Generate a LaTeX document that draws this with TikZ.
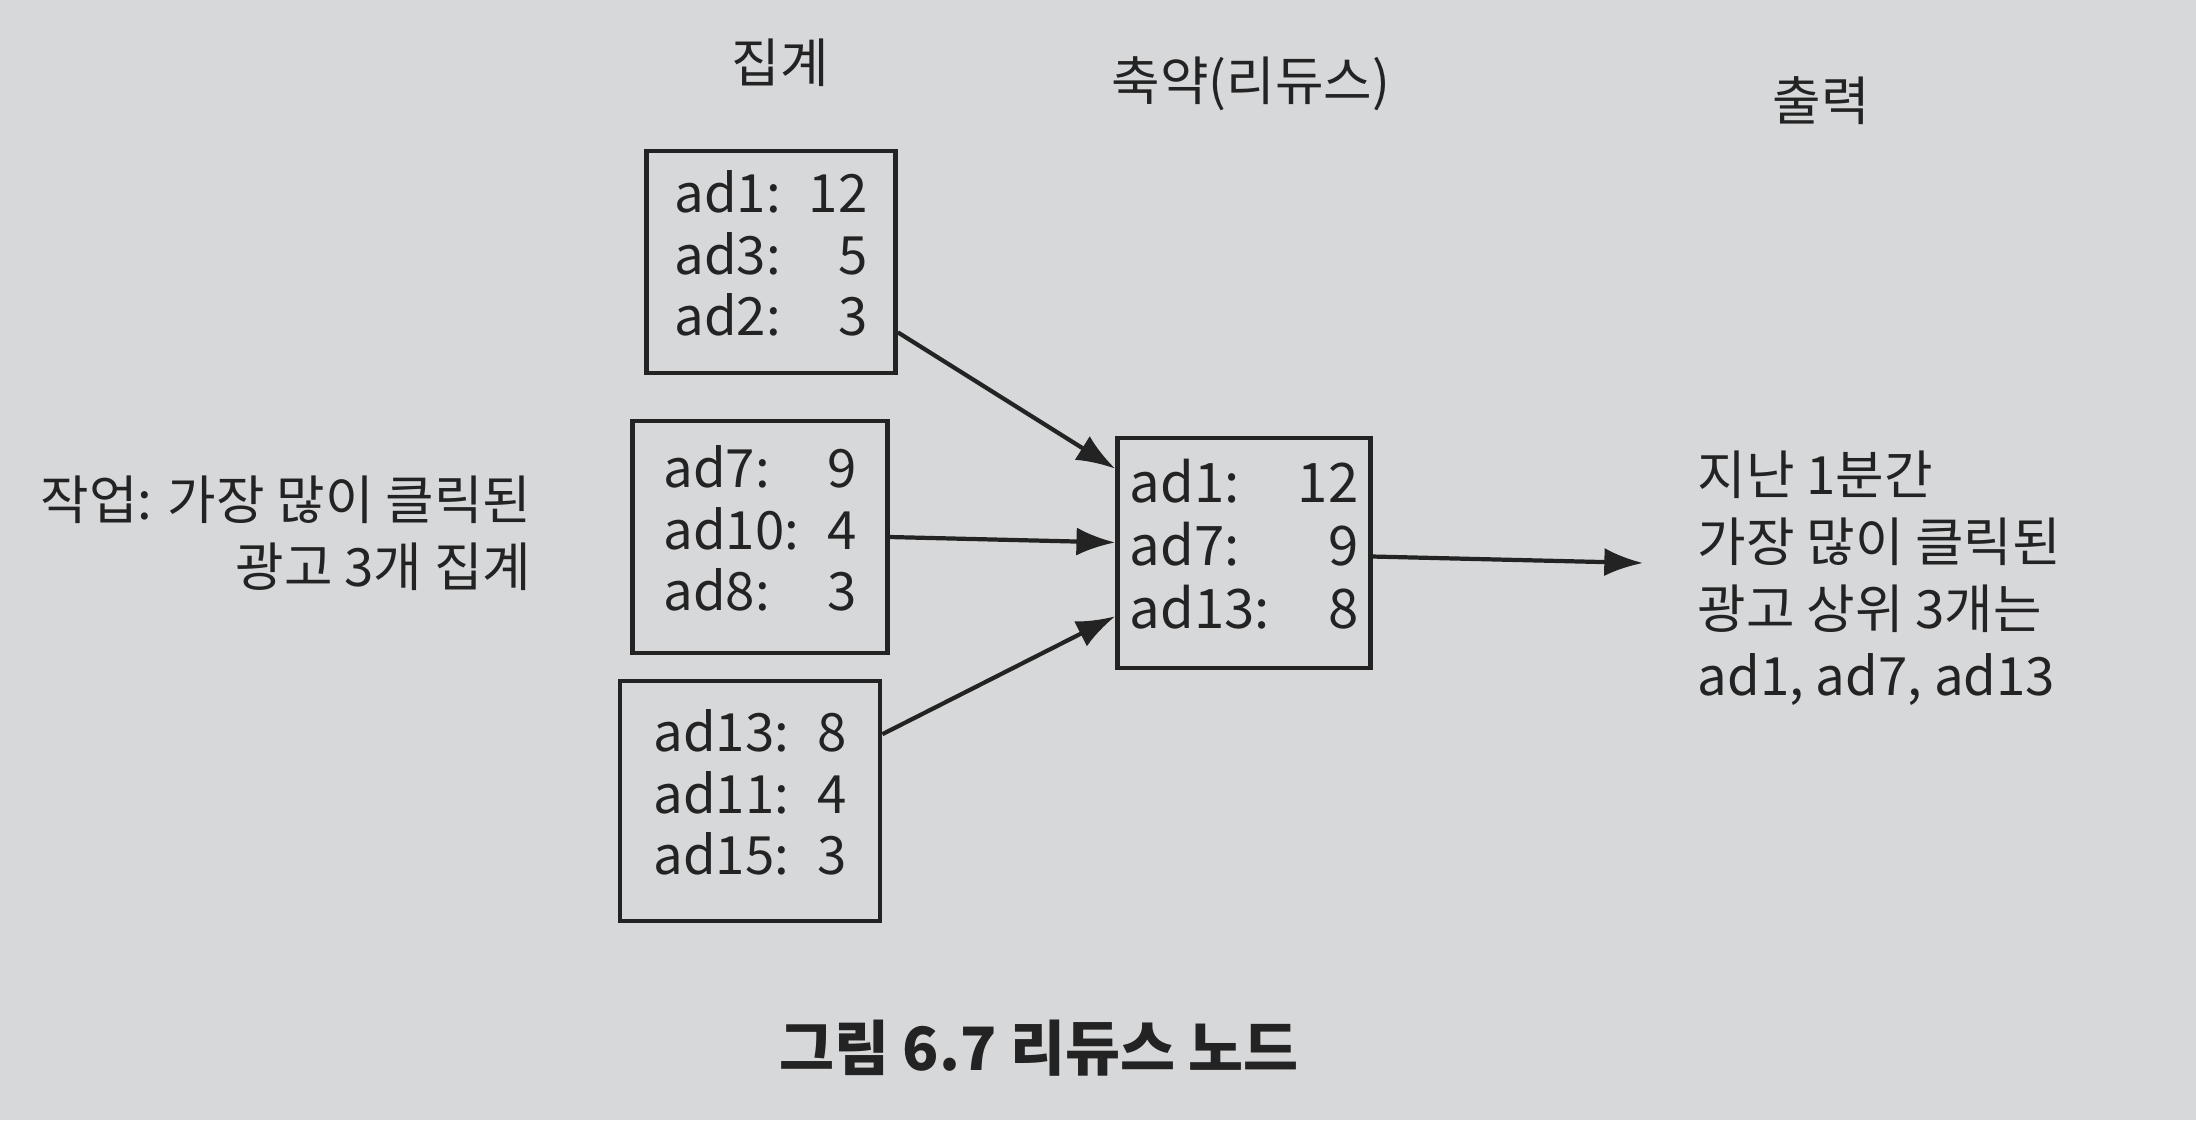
\documentclass[tikz,border=0pt]{standalone}
\usepackage{fontspec}
\setmainfont{Noto Sans CJK KR}
\usetikzlibrary{arrows.meta,calc}
\definecolor{paper}{HTML}{D7D8DA}
\definecolor{ink}{HTML}{232323}
\tikzset{
  adbox/.style={draw=ink,line width=1.3pt,inner sep=0pt,text=ink,font=\fontsize{15}{17.5}\selectfont},
  lbl/.style={text=ink,font=\fontsize{15}{19}\selectfont,inner sep=0pt},
  conn/.style={draw=ink,line width=1.2pt,-{Latex[length=11pt,width=8pt]}}
}
\newcommand{\adtab}[1]{\begin{tabular}{@{}l@{\hspace{8pt}}r@{}}#1\end{tabular}}
\begin{document}
\begin{tikzpicture}[x=0.01cm,y=-0.01cm]
\fill[paper] (0,0) rectangle (2196,1120);
\useasboundingbox (0,0) rectangle (2196,1120);

\node[lbl] (t1) at (780,63) {집계};
\node[lbl] (t2) at (1251,84) {축약(리듀스)};
\node[lbl] (t3) at (1821,101) {출력};

\node[adbox,minimum width=2.49cm,minimum height=2.22cm] (b1) at (771,262)
  {\adtab{ad1: & 12\\ ad3: & 5\\ ad2: & 3}};
\node[adbox,minimum width=2.55cm,minimum height=2.32cm] (b2) at (760,537)
  {\adtab{ad7: & 9\\ ad10: & 4\\ ad8: & 3}};
\node[adbox,minimum width=2.60cm,minimum height=2.40cm] (b3) at (750,801)
  {\adtab{ad13: & 8\\ ad11: & 4\\ ad15: & 3}};
\node[adbox,minimum width=2.53cm,minimum height=2.30cm,font=\fontsize{15.5}{18}\selectfont] (r) at (1244,553)
  {\adtab{ad1: & 12\\ ad7: & 9\\ ad13: & 8}};

\node[lbl,align=right,anchor=east] (task) at (532,533)
  {작업: 가장 많이 클릭된\\광고 3개 집계};
\node[lbl,align=left,anchor=west] (out) at (1697,578)
  {지난 1분간\\가장 많이 클릭된\\광고 상위 3개는\\ad1, ad7, ad13};
\coordinate (oend) at (1643,563);

\draw[conn] ([yshift=-20pt]b1.east) -- ([yshift=24pt]r.west);
\draw[conn] ([yshift=0pt]b2.east) -- ([yshift=3pt]r.west);
\draw[conn] ([yshift=19pt]b3.east) -- ([yshift=-18pt]r.west);
\draw[conn] ([yshift=-1pt]r.east) -- (oend);

\node[lbl,font=\fontsize{17}{20}\selectfont\bfseries] (cap) at (1039,1048) {그림 6.7 리듀스 노드};
\end{tikzpicture}
\end{document}
